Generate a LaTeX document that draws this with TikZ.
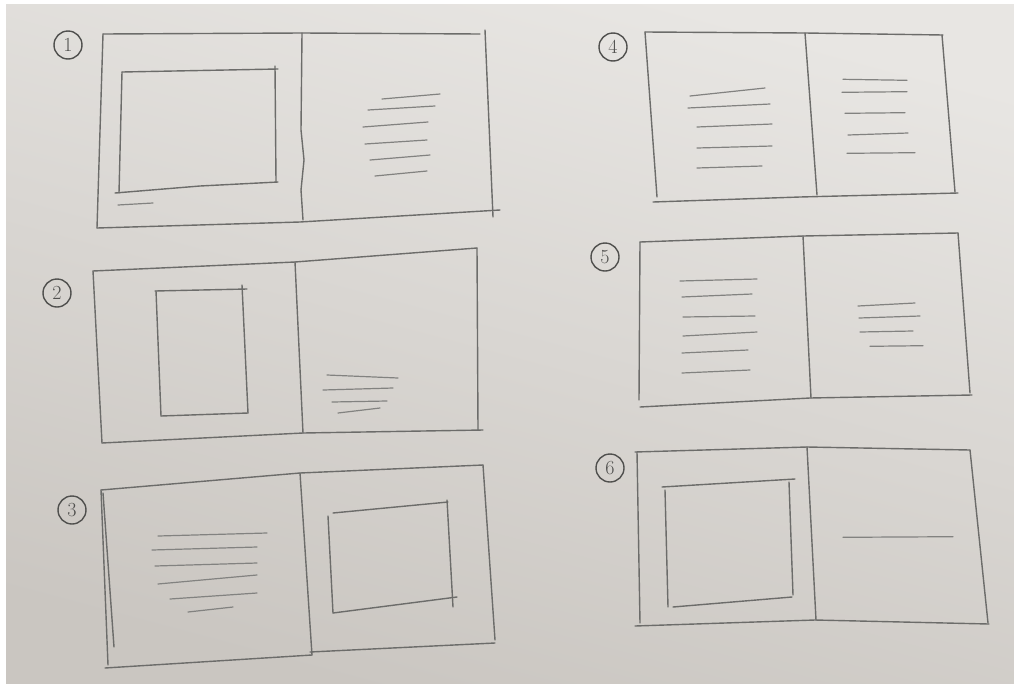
\documentclass[tikz,border=0pt]{standalone}
\usepackage{fontspec}
\begin{document}
\begin{tikzpicture}[x=1pt,y=-1pt,
  pencil/.style={draw=pencilgray,line width=1.4pt,line cap=round,line join=round},
  textline/.style={draw=pencilgray!85,line width=1.2pt,line cap=round},
  numcircle/.style={circle,draw=pencildark,line width=1.4pt,minimum size=28pt,inner sep=0pt,font=\fontsize{20}{20}\selectfont,text=pencildark}]
\definecolor{pencilgray}{RGB}{108,108,106}
\definecolor{pencildark}{RGB}{80,80,78}
\definecolor{paperlight}{RGB}{232,230,227}
\definecolor{paperdark}{RGB}{202,198,193}
\useasboundingbox (0,0) rectangle (1014,683);
\fill[white] (0,0) rectangle (1014,683);
\shade[top color=paperlight,bottom color=paperdark,shading angle=-15] (6,4) rectangle (1014,683);
% ---------- spread 1 ----------
\node[numcircle] (n1) at (68,45) {1};
\draw[pencil] (103,34) -- (302,33) -- (480,34);
\draw[pencil] (97,228) -- (300,222) -- (500,210);
\draw[pencil] (103,34) -- (97,228);
\draw[pencil] (485,30) -- (493,217);
\draw[pencil] (302,33) -- (301,130) -- (304,160) -- (301,190) -- (303,220);
\draw[pencil] (122,72) -- (278,69);
\draw[pencil] (275,66) -- (276,182);
\draw[pencil] (122,72) -- (119,193);
\draw[pencil] (115,193) -- (200,186) -- (278,182);
\draw[textline] (118,205) -- (153,203);
\draw[textline] (382,99) -- (440,94);
\draw[textline] (368,110) -- (435,106);
\draw[textline] (363,127) -- (428,122);
\draw[textline] (365,144) -- (427,140);
\draw[textline] (370,160) -- (430,155);
\draw[textline] (375,176) -- (427,171);
% ---------- spread 2 ----------
\node[numcircle] (n2) at (57,293) {2};
\draw[pencil] (93,271) -- (295,262) -- (477,248);
\draw[pencil] (102,443) -- (303,433) -- (483,430);
\draw[pencil] (93,271) -- (102,443);
\draw[pencil] (477,248) -- (478,430);
\draw[pencil] (295,262) -- (303,433);
\draw[pencil] (155,291) -- (247,289);
\draw[pencil] (242,285) -- (248,413);
\draw[pencil] (156,291) -- (161,416);
\draw[pencil] (161,416) -- (248,413);
\draw[textline] (327,375) -- (398,378);
\draw[textline] (323,390) -- (393,388);
\draw[textline] (332,402) -- (387,401);
\draw[textline] (338,413) -- (380,408);
% ---------- spread 3 ----------
\node[numcircle] (n3) at (72,510) {3};
\draw[pencil] (101,490) -- (300,473) -- (483,465);
\draw[pencil] (105,668) -- (312,655);
\draw[pencil] (310,652) -- (495,643);
\draw[pencil] (101,490) -- (108,665);
\draw[pencil] (103,493) -- (114,647);
\draw[pencil] (483,465) -- (495,640);
\draw[pencil] (300,473) -- (312,655);
\draw[textline] (158,536) -- (267,533);
\draw[textline] (152,550) -- (257,547);
\draw[textline] (155,566) -- (257,563);
\draw[textline] (158,584) -- (257,575);
\draw[textline] (170,599) -- (257,593);
\draw[textline] (188,612) -- (233,607);
\draw[pencil] (333,513) -- (448,502);
\draw[pencil] (447,500) -- (453,607);
\draw[pencil] (328,516) -- (333,613);
\draw[pencil] (333,613) -- (457,597);
% ---------- spread 4 ----------
\node[numcircle] (n4) at (613,47) {4};
\draw[pencil] (645,32) -- (805,33) -- (943,35);
\draw[pencil] (653,202) -- (800,197) -- (958,193);
\draw[pencil] (645,32) -- (657,197);
\draw[pencil] (942,35) -- (955,192);
\draw[pencil] (805,33) -- (817,195);
\draw[textline] (690,96) -- (765,88);
\draw[textline] (688,108) -- (770,104);
\draw[textline] (697,127) -- (772,124);
\draw[textline] (697,148) -- (772,146);
\draw[textline] (697,168) -- (762,166);
\draw[textline] (843,79.3) -- (907,80.3);
\draw[textline] (842,92.3) -- (907,91.7);
\draw[textline] (845,113.3) -- (905,112.7);
\draw[textline] (848,135) -- (908,133);
\draw[textline] (847,153.3) -- (915,152.7);
% ---------- spread 5 ----------
\node[numcircle] (n5) at (605,257) {5};
\draw[pencil] (640,242) -- (803,236) -- (958,233);
\draw[pencil] (640,407) -- (810,398) -- (972,395);
\draw[pencil] (640,242) -- (639,400);
\draw[pencil] (958,233) -- (970,393);
\draw[pencil] (803,236) -- (811,398);
\draw[textline] (680,281) -- (757,279);
\draw[textline] (682,297) -- (752,294);
\draw[textline] (683,317) -- (755,316);
\draw[textline] (683,336) -- (757,332);
\draw[textline] (682,353) -- (748,350);
\draw[textline] (682,373) -- (750,370);
\draw[textline] (858,306) -- (915,303);
\draw[textline] (859,318) -- (920,316);
\draw[textline] (860,332) -- (913,331);
\draw[textline] (870,346.3) -- (923,345.7);
% ---------- spread 6 ----------
\node[numcircle] (n6) at (610,468) {6};
\draw[pencil] (635,452) -- (807,447) -- (970,450);
\draw[pencil] (635,626) -- (815,620) -- (989,624);
\draw[pencil] (637,452) -- (640,623);
\draw[pencil] (970,450) -- (988,623);
\draw[pencil] (807,447) -- (816,620);
\draw[pencil] (662,487) -- (795,479);
\draw[pencil] (665,490) -- (668,607);
\draw[pencil] (789,482) -- (793,595);
\draw[pencil] (673,607) -- (792,597);
\draw[textline] (843,537.3) -- (953,536.7);
\end{tikzpicture}
\end{document}
